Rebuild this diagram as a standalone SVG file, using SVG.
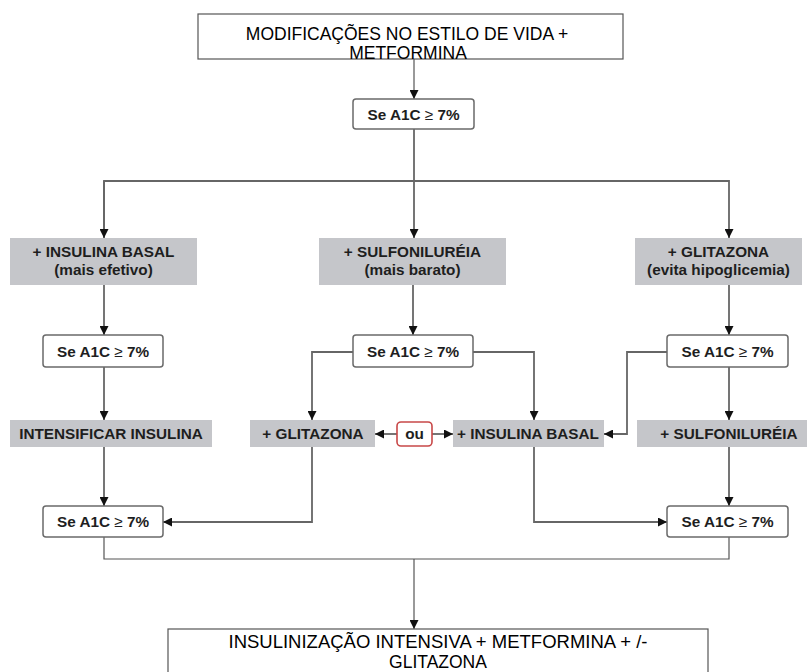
<svg xmlns="http://www.w3.org/2000/svg" width="807" height="672" viewBox="0 0 807 672">
<style>
.bg{fill:#fff}
.plain{fill:#fff;stroke:#555;stroke-width:1.2}
.cond{fill:#fff;stroke:#6a6a6a;stroke-width:1.5}
.gray{fill:#c5c6ca;stroke:none}
.ou{fill:#fff;stroke:#c84848;stroke-width:1.6}
.t1{font-family:"Liberation Sans",Arial,sans-serif;font-size:17.5px;fill:#000;text-anchor:middle}
.tb{font-family:"Liberation Sans",Arial,sans-serif;font-size:15.3px;font-weight:bold;fill:#1e1e1e;text-anchor:middle}
.ge{font-weight:normal}
.ln{fill:none;stroke:#666;stroke-width:1.8}
.lt{fill:none;stroke:#555;stroke-width:1.2}
</style>
<defs>
<marker id="ah" viewBox="0 0 10 10" refX="10" refY="5" markerWidth="9" markerHeight="9" markerUnits="userSpaceOnUse" orient="auto">
<path d="M0,0 L10,5 L0,10 z" fill="#111"/>
</marker>
</defs>
<rect class="bg" x="0" y="0" width="807" height="672"/>

<g id="connectors">
<path class="lt" d="M414,59 V99" marker-end="url(#ah)"/>
<path class="ln" d="M414,129 V238" marker-end="url(#ah)"/>
<path class="ln" d="M104,238 V181 H729 V238" marker-end="url(#ah)"/>
<path class="ln" d="M104,181 V238" marker-end="url(#ah)"/>
<path class="ln" d="M104,285 V335" marker-end="url(#ah)"/>
<path class="ln" d="M413,285 V335" marker-end="url(#ah)"/>
<path class="ln" d="M729,285 V335" marker-end="url(#ah)"/>
<path class="ln" d="M104,367 V420" marker-end="url(#ah)"/>
<path class="ln" d="M729,367 V420" marker-end="url(#ah)"/>
<path class="ln" d="M353,352 H312 V420" marker-end="url(#ah)"/>
<path class="ln" d="M473,352 H534 V420" marker-end="url(#ah)"/>
<path class="ln" d="M667,352 H627 V434 H604" marker-end="url(#ah)"/>
<path class="ln" d="M397,434 H375" marker-end="url(#ah)"/>
<path class="ln" d="M432,434 H453" marker-end="url(#ah)"/>
<path class="ln" d="M104,447 V506" marker-end="url(#ah)"/>
<path class="ln" d="M729,447 V506" marker-end="url(#ah)"/>
<path class="ln" d="M312,447 V522 H163" marker-end="url(#ah)"/>
<path class="ln" d="M534,447 V522 H667" marker-end="url(#ah)"/>
<path class="lt" d="M104,537 V559 H729 V537"/>
<path class="lt" d="M414,559 V629" marker-end="url(#ah)"/>
</g>

<g id="n-top">
<rect class="plain" x="198" y="14" width="425" height="45"/>
<text class="t1" x="407" y="40">MODIFICAÇÕES NO ESTILO DE VIDA +</text>
<text class="t1" x="408" y="59">METFORMINA</text>
</g>

<g id="n-a1c-0">
<rect class="cond" x="353" y="99" width="121" height="30" rx="3"/>
<text class="tb" x="413.5" y="119.5">Se A1C <tspan class="ge">≥</tspan> 7%</text>
</g>

<g id="n-insbasal-1">
<rect class="gray" x="10" y="238" width="187" height="47"/>
<text class="tb" x="103.5" y="257">+ INSULINA BASAL</text>
<text class="tb" x="103.5" y="275">(mais efetivo)</text>
</g>

<g id="n-sulf-1">
<rect class="gray" x="319" y="238" width="187" height="47"/>
<text class="tb" x="412.5" y="257">+ SULFONILURÉIA</text>
<text class="tb" x="412.5" y="275">(mais barato)</text>
</g>

<g id="n-glit-1">
<rect class="gray" x="635" y="238" width="167" height="47"/>
<text class="tb" x="718.5" y="257">+ GLITAZONA</text>
<text class="tb" x="718.5" y="275">(evita hipoglicemia)</text>
</g>

<g id="n-a1c-l">
<rect class="cond" x="43" y="335" width="120" height="32" rx="3"/>
<text class="tb" x="103" y="356.5">Se A1C <tspan class="ge">≥</tspan> 7%</text>
</g>
<g id="n-a1c-m">
<rect class="cond" x="353" y="335" width="120" height="32" rx="3"/>
<text class="tb" x="413" y="356.5">Se A1C <tspan class="ge">≥</tspan> 7%</text>
</g>
<g id="n-a1c-r">
<rect class="cond" x="667" y="335" width="121" height="32" rx="3"/>
<text class="tb" x="727.5" y="356.5">Se A1C <tspan class="ge">≥</tspan> 7%</text>
</g>

<g id="n-intens">
<rect class="gray" x="10" y="420" width="202" height="27"/>
<text class="tb" x="111" y="439">INTENSIFICAR INSULINA</text>
</g>
<g id="n-glit-2">
<rect class="gray" x="250" y="420" width="125" height="27"/>
<text class="tb" x="313" y="439">+ GLITAZONA</text>
</g>
<g id="n-ou">
<rect class="ou" x="397" y="422" width="35" height="24" rx="4"/>
<text class="tb" x="414.5" y="439">ou</text>
</g>
<g id="n-insbasal-2">
<rect class="gray" x="453" y="420" width="151" height="27"/>
<text class="tb" x="528" y="439">+ INSULINA BASAL</text>
</g>
<g id="n-sulf-2">
<rect class="gray" x="637" y="420" width="170" height="27"/>
<text class="tb" x="729" y="439">+ SULFONILURÉIA</text>
</g>

<g id="n-a1c-bl">
<rect class="cond" x="43" y="506" width="120" height="31" rx="3"/>
<text class="tb" x="103" y="527">Se A1C <tspan class="ge">≥</tspan> 7%</text>
</g>
<g id="n-a1c-br">
<rect class="cond" x="667" y="506" width="121" height="31" rx="3"/>
<text class="tb" x="727.5" y="527">Se A1C <tspan class="ge">≥</tspan> 7%</text>
</g>

<g id="n-bottom">
<rect class="plain" x="168" y="629" width="540" height="50"/>
<text class="t1" x="438" y="648" textLength="419" lengthAdjust="spacingAndGlyphs">INSULINIZAÇÃO INTENSIVA + METFORMINA + /-</text>
<text class="t1" x="438" y="668">GLITAZONA</text>
</g>
</svg>
